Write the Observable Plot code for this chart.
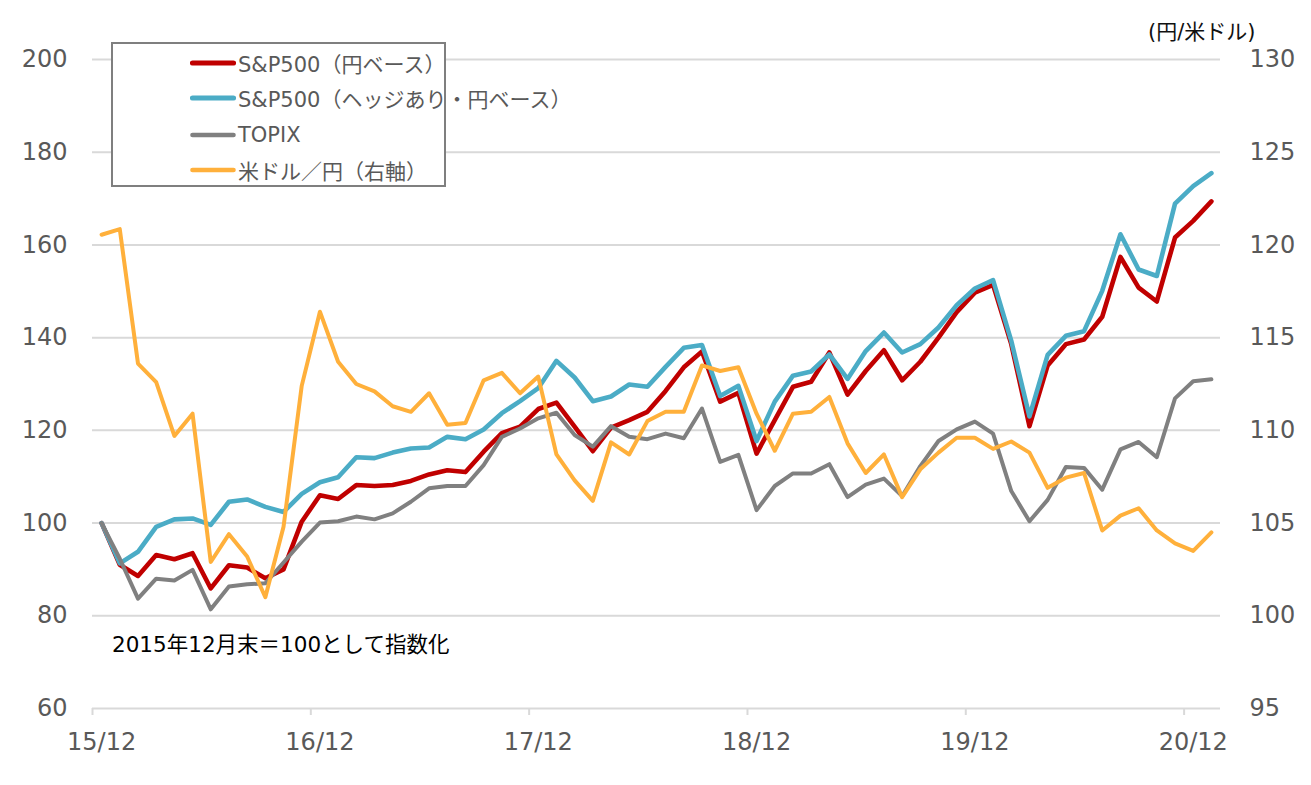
<!DOCTYPE html>
<html><head><meta charset="utf-8">
<script src="https://cdn.jsdelivr.net/npm/d3@7"></script>
<script src="https://cdn.jsdelivr.net/npm/@observablehq/plot@0.6"></script>
<style>
body{margin:0;background:#fff;}
#wrap{position:relative;width:1311px;height:785px;font-family:"DejaVu Sans","Noto Sans CJK JP",sans-serif;}
#legend{position:absolute;left:111px;top:42px;width:331px;height:141px;border:2px solid #7f7f7f;background:#fff;}
.row{position:absolute;left:77px;height:30px;display:flex;align-items:center;font-size:21px;color:#595959;white-space:nowrap;}
.row svg{margin-right:2px;display:block;}
#rtitle{position:absolute;left:1148px;top:18px;font-size:21px;color:#111;white-space:nowrap;line-height:28px;}
#caption{position:absolute;left:112px;top:631px;font-size:21.5px;color:#000;white-space:nowrap;line-height:28px;}
</style>
</head><body>
<div id="wrap"></div>
<script>
const months = ["15/12",
 "16/01","16/02","16/03","16/04","16/05","16/06","16/07","16/08","16/09","16/10","16/11","16/12",
 "17/01","17/02","17/03","17/04","17/05","17/06","17/07","17/08","17/09","17/10","17/11","17/12",
 "18/01","18/02","18/03","18/04","18/05","18/06","18/07","18/08","18/09","18/10","18/11","18/12",
 "19/01","19/02","19/03","19/04","19/05","19/06","19/07","19/08","19/09","19/10","19/11","19/12",
 "20/01","20/02","20/03","20/04","20/05","20/06","20/07","20/08","20/09","20/10","20/11","20/12",
 "21/01"];
const xTickLabels = ["15/12","16/12","17/12","18/12","19/12","20/12"];
const leftTicks = [60,80,100,120,140,160,180,200];
const rightTicks = [95,100,105,110,115,120,125,130];

const sp500Yen = [100,91.0,88.6,93.1,92.2,93.5,85.9,90.9,90.4,88.1,90.0,100.3,106.0,105.2,108.2,108.0,108.2,109.1,110.5,111.4,111.0,115.4,119.4,120.8,124.6,126.0,120.8,115.5,120.6,122.2,124.0,128.5,133.6,137.0,126.2,128.1,115.0,122.2,129.4,130.5,136.8,127.7,132.8,137.3,130.8,134.8,140.0,145.5,149.7,151.4,138.6,120.9,134.0,138.6,139.6,144.5,157.4,150.8,147.8,161.6,165.2,169.4];
const sp500Hedged = [100,91.3,93.8,99.2,100.8,101.0,99.6,104.6,105.1,103.5,102.4,106.3,108.8,109.9,114.2,114.0,115.2,116.1,116.3,118.6,118.1,120.2,123.7,126.3,129.1,135.0,131.4,126.3,127.3,129.9,129.4,133.7,137.8,138.4,127.4,129.6,117.7,126.2,131.8,132.7,136.4,131.1,137.1,141.1,136.8,138.6,142.2,147.0,150.6,152.4,139.3,123.0,136.3,140.4,141.4,150.1,162.3,154.7,153.3,168.9,172.7,175.5];
const topix = [100,92.3,83.7,88.0,87.6,89.9,81.4,86.3,86.8,87.0,91.5,96.0,100.1,100.4,101.4,100.8,102.1,104.6,107.5,108.0,108.0,112.5,118.6,120.4,122.6,123.8,119.0,116.5,120.9,118.6,118.1,119.3,118.3,124.7,113.2,114.7,102.8,108.0,110.7,110.7,112.7,105.6,108.3,109.6,105.8,112.3,117.7,120.2,121.9,119.3,106.9,100.4,105.0,112.1,111.9,107.2,115.9,117.5,114.2,126.9,130.6,131.0];
const usdjpy = [120.55,120.85,113.6,112.6,109.7,110.9,102.9,104.4,103.2,101.0,104.8,112.4,116.4,113.7,112.5,112.1,111.3,111.0,112.0,110.3,110.4,112.7,113.1,112.0,112.9,108.7,107.3,106.2,109.35,108.7,110.5,111.0,111.0,113.5,113.2,113.4,110.9,108.9,110.9,111.0,111.8,109.3,107.7,108.7,106.4,107.9,108.8,109.6,109.6,109.0,109.4,108.8,106.9,107.45,107.7,104.6,105.4,105.8,104.6,103.9,103.5,104.5];

const seriesNames = ["S&P500（円ベース）","S&P500（ヘッジあり・円ベース）","TOPIX","米ドル／円（右軸）"];
const seriesColors = ["#c00000","#4bacc6","#808080","#ffb03b"];
const seriesWidths = [4.6,4.6,4,4];

// right axis (95..130) mapped onto left axis (60..200)
const toLeft = r => (r - rightTicks[0]) * (leftTicks[leftTicks.length-1]-leftTicks[0]) / (rightTicks[rightTicks.length-1]-rightTicks[0]) + leftTicks[0];

const rows = s => s.map((v,i)=>({i, month: months[i], v}));
const seriesData = [rows(sp500Yen), rows(sp500Hedged), rows(topix), rows(usdjpy).map(d=>({...d, v: toLeft(d.v)}))];

const labelIdx = xTickLabels.map(l => months.indexOf(l));
const boundaryIdx = labelIdx.map(i => i - 0.5);

const chart = Plot.plot({
  width: 1311, height: 785,
  marginLeft: 92, marginRight: 91, marginTop: 59, marginBottom: 77,
  style: {fontFamily: '"DejaVu Sans","Noto Sans CJK JP",sans-serif', fontSize: "24px", color: "#595959", background: "#fff", overflow: "visible"},
  x: {type: "linear", domain: [-0.5, months.length - 0.5]},
  y: {domain: [leftTicks[0], leftTicks[leftTicks.length-1]]},
  marks: [
    Plot.gridY(leftTicks, {stroke: "#d9d9d9", strokeOpacity: 1, strokeWidth: 2}),
    Plot.axisX(boundaryIdx, {tickSize: 7, tickFormat: () => "", stroke: "#d9d9d9", strokeWidth: 2, strokeOpacity: 1, label: null}),
    Plot.axisX(labelIdx, {tickSize: 0, tickPadding: 24, tickFormat: i => months[i], label: null, fill: "#595959"}),
    Plot.axisY(leftTicks, {anchor: "left", tickSize: 0, tickPadding: 25, label: null, fill: "#595959"}),
    Plot.axisY(leftTicks, {anchor: "right", tickSize: 0, tickPadding: 29, label: null, fill: "#595959",
      tickFormat: d => String(rightTicks[leftTicks.indexOf(d)])}),
    ...seriesData.map((s, k) => Plot.line(s, {x: "i", y: "v", stroke: seriesColors[k], strokeWidth: seriesWidths[k], strokeLinejoin: "round", strokeLinecap: "round"}))
  ]
});

const wrap = document.getElementById("wrap");
wrap.appendChild(chart);

const legend = document.createElement("div");
legend.id = "legend";
const rowTops = [4, 39, 76, 111];
seriesNames.forEach((name, k) => {
  const r = document.createElement("div");
  r.className = "row";
  r.style.top = rowTops[k] + "px";
  r.innerHTML = `<svg width="46" height="10"><line x1="2.5" y1="5" x2="43.5" y2="5" stroke="${seriesColors[k]}" stroke-width="${seriesWidths[k]+0.6}" stroke-linecap="round"/></svg><span>${name}</span>`;
  legend.appendChild(r);
});
wrap.appendChild(legend);

const rt = document.createElement("div");
rt.id = "rtitle"; rt.textContent = "(円/米ドル)";
wrap.appendChild(rt);

const cap = document.createElement("div");
cap.id = "caption"; cap.textContent = "2015年12月末＝100として指数化";
wrap.appendChild(cap);
</script>
</body></html>
